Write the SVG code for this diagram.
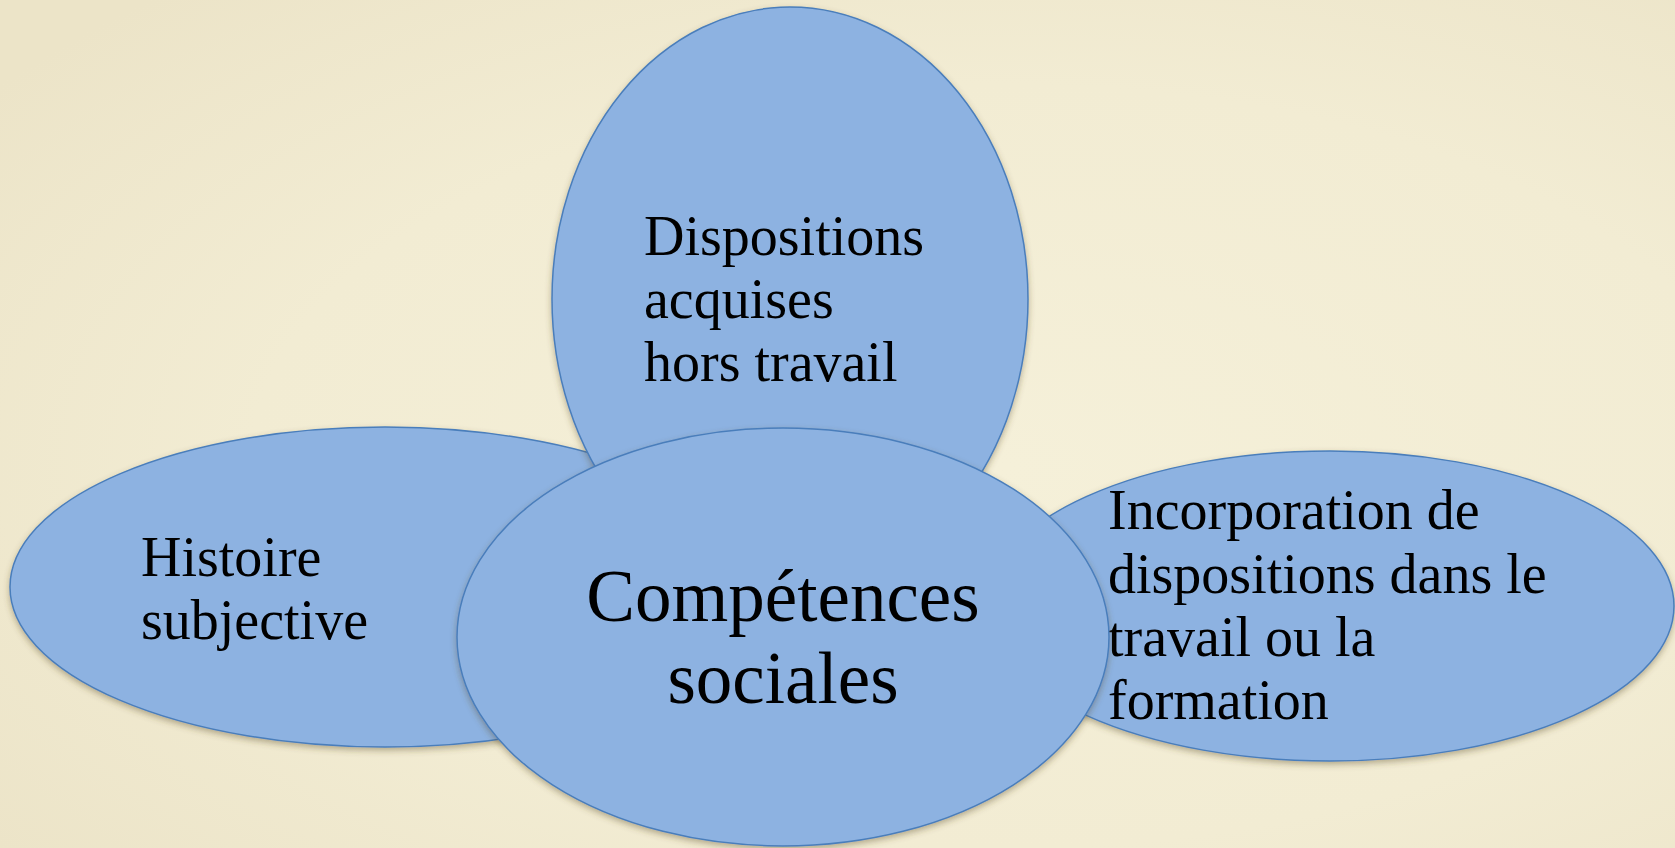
<svg xmlns="http://www.w3.org/2000/svg" width="1675" height="848" viewBox="0 0 1675 848">
<defs>
<radialGradient id="bg" cx="0.6" cy="0.55" r="0.75">
<stop offset="0" stop-color="#F5F0D9"/>
<stop offset="0.6" stop-color="#F2ECD3"/>
<stop offset="1" stop-color="#ECE4C8"/>
</radialGradient>
<filter id="sh" x="-10%" y="-10%" width="120%" height="125%">
<feDropShadow dx="0" dy="3" stdDeviation="3" flood-color="#5a4a2a" flood-opacity="0.4"/>
</filter>
<style>
.n{fill:#8DB2E1;stroke:#4A7EBB;stroke-width:1.5;filter:url(#sh)}
.t{font-family:"Liberation Serif","Times New Roman",serif;fill:#000;font-size:56px}
.c{font-size:73px;text-anchor:middle}
</style>
</defs>
<rect width="1675" height="848" fill="url(#bg)"/>
<g id="node-histoire">
<ellipse class="n" cx="385" cy="587" rx="375" ry="160"/>
<text class="t" x="141" y="576">Histoire</text>
<text class="t" x="141" y="639">subjective</text>
</g>
<g id="node-incorporation">
<ellipse class="n" cx="1330" cy="606" rx="344" ry="155"/>
<text class="t" x="1108" y="529">Incorporation de</text>
<text class="t" x="1108" y="593">dispositions dans le</text>
<text class="t" x="1108" y="656">travail ou la</text>
<text class="t" x="1108" y="719">formation</text>
</g>
<g id="node-dispositions">
<ellipse class="n" cx="790" cy="299" rx="238" ry="292"/>
<text class="t" x="644" y="255">Dispositions</text>
<text class="t" x="644" y="318">acquises</text>
<text class="t" x="644" y="381">hors travail</text>
</g>
<g id="node-competences">
<ellipse class="n" cx="783" cy="637" rx="326" ry="209"/>
<text class="t c" x="783" y="621">Compétences</text>
<text class="t c" x="783" y="703">sociales</text>
</g>
<g id="connectors"/>
</svg>
